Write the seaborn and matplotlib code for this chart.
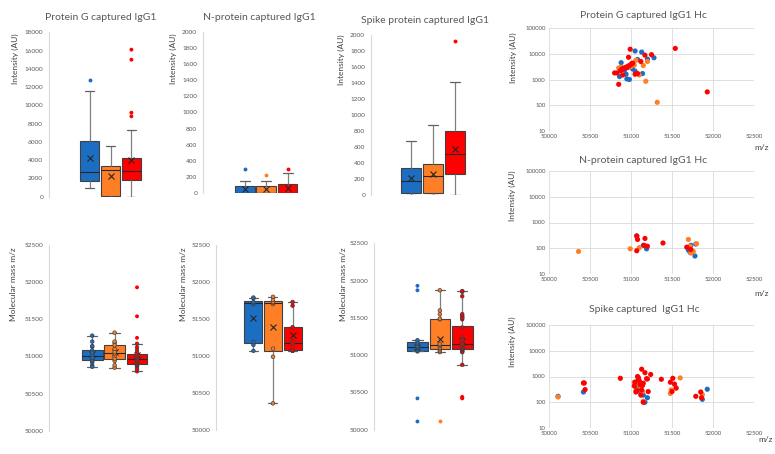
import numpy as np
import pandas as pd
import matplotlib
matplotlib.use("Agg")
import matplotlib.pyplot as plt
import seaborn as sns
from matplotlib.ticker import FixedLocator, FuncFormatter, NullLocator

nan = np.nan

# ---------------- data ----------------
groups = ["Group 1", "Group 2", "Group 3"]
colors = ["#1b6ec2", "#ff7f27", "#ff0000"]

# Protein G captured IgG1 (mass m/z, intensity AU); nan mass = no peak (intensity 0)
pg_blue_mass = [51050, 51130, 51280, 51200, 51080, 50880, 51000, 50960, 51020, 50920, 51050, 51140, 50940, 50860, 50950, 50980]
pg_blue_int = [12800, 11600, 7000, 6200, 6000, 4500, 3200, 2900, 2600, 2300, 2100, 1700, 1600, 1300, 1050, 1000]
pg_orange_mass = [51320, 51180, 51100, 50850, 50880, 50940, 51000, 50970, 51150, 51200, 51040, 51060, nan, nan, nan, nan]
pg_orange_int = [130, 850, 1500, 2800, 3000, 3000, 3200, 3300, 3500, 5000, 3600, 5600, 0, 0, 0, 0]
pg_red_mass = [51540, 50990, 51250, 51170, 50970, 51120, 51930, 50850, 50900, 50800, 50830, 50870, 50880, 50890,
               50900, 50910, 50920, 50930, 50940, 50950, 50960, 50980, 51000, 51010, 51020, 51050, 51080, nan]
pg_red_int = [16100, 15000, 9200, 8800, 7300, 5000, 330, 650, 1500, 1800, 1800, 2200, 2400, 2500,
              2600, 2700, 2800, 2800, 2900, 3000, 3200, 3500, 3800, 4200, 4300, 1600, 1700, 0]

# N-protein captured IgG1
np_blue_mass = [51070, 51150, 51190, 51700, 51720, 51730, 51780, 51790] + [nan] * 12
np_blue_int = [300, 130, 95, 85, 70, 130, 50, 145] + [0] * 12
np_orange_mass = [50360, 50990, 51100, 51700, 51720, 51730, 51760, 51800] + [nan] * 12
np_orange_int = [75, 95, 105, 220, 120, 65, 75, 150] + [0] * 12
np_red_mass = [51070, 51070, 51080, 51160, 51170, 51200, 51390, 51680, 51730] + [nan] * 15
np_red_int = [300, 80, 220, 130, 240, 120, 160, 110, 90] + [0] * 15

# Spike protein captured IgG1
sp_blue_mass = [50110, 50420, 51050, 51060, 51080, 51100, 51110, 51120, 51150, 51170, 51200, 51870, 51930] + [nan] * 5
sp_blue_int = [170, 250, 450, 380, 680, 350, 550, 220, 190, 100, 150, 130, 320] + [0] * 5
sp_orange_mass = [50110, 51040, 51060, 51080, 51100, 51120, 51140, 51150, 51480, 51490, 51550, 51600, 51870] + [nan] * 5
sp_orange_int = [160, 600, 280, 500, 450, 400, 260, 110, 220, 300, 350, 880, 200] + [0] * 5
sp_red_mass = [50420, 50430, 50440, 50870, 51130, 51170, 51240, 51190, 51370, 51480, 51510, 51530, 51550, 51790,
               51850, 51860, 51150, 51120, 51210, 51060, 51040, 51050, 51070, 51080, 51090, 51100, 51110, 51130,
               51140, 51150, 51200, 51500, nan]
sp_red_int = [560, 560, 310, 850, 1920, 1410, 1200, 820, 780, 600, 850, 510, 360, 170,
              250, 150, 100, 190, 260, 250, 430, 600, 280, 1000, 900, 700, 480, 300,
              450, 550, 800, 260, 0]

titles_box = ["Protein G captured IgG1", "N-protein captured IgG1", "Spike protein captured IgG1"]
titles_sc = ["Protein G captured IgG1 Hc", "N-protein captured IgG1 Hc", "Spike captured  IgG1 Hc"]


def frame(bm, bi, om, oi, rm, ri):
    parts = []
    for g, m, i in zip(groups, [bm, om, rm], [bi, oi, ri]):
        parts.append(pd.DataFrame({"group": g, "mass": m, "intensity": i}))
    return pd.concat(parts, ignore_index=True)


pg = frame(pg_blue_mass, pg_blue_int, pg_orange_mass, pg_orange_int, pg_red_mass, pg_red_int)
npdf = frame(np_blue_mass, np_blue_int, np_orange_mass, np_orange_int, np_red_mass, np_red_int)
sp = frame(sp_blue_mass, sp_blue_int, sp_orange_mass, sp_orange_int, sp_red_mass, sp_red_int)

# ---------------- style ----------------
sns.set_theme(style="white")
plt.rcParams['font.family'] = ['Lato', 'DejaVu Sans']

W, H = 775, 454
fig = plt.figure(figsize=(W / 100, H / 100), dpi=100)

TICK_C = "#595959"
LAB_C = "#404040"


def add_ax(l, t, r, b):
    return fig.add_axes([l / W, 1 - b / H, (r - l) / W, (b - t) / H])


def fx(x):
    return x / W


def fy(y):
    return 1 - y / H


def outlier_mask(df, col):
    mask = pd.Series(False, index=df.index)
    for g in groups:
        s = df.loc[df.group == g, col].dropna()
        q1, q3 = np.percentile(s, [25, 75])
        iqr = q3 - q1
        out = (s < q1 - 1.5 * iqr) | (s > q3 + 1.5 * iqr)
        mask.loc[out.index] = out
    return mask


def draw_box(ax, df, col, xlim, ylim, yticks, inner):
    sns.boxplot(data=df, x="group", y=col, hue="group", order=groups, hue_order=groups,
                palette=colors, saturation=1, width=0.92, showfliers=False, showmeans=True,
                linewidth=0.8, linecolor="#404040", legend=False, ax=ax, whis=1.5,
                meanprops=dict(marker="x", markeredgecolor="#262626", markerfacecolor="none",
                               markersize=4.5, markeredgewidth=0.8),
                whiskerprops=dict(color="#808080", linewidth=0.9),
                capprops=dict(color="#606060", linewidth=0.9),
                medianprops=dict(color="#262626", linewidth=0.8))
    d = df.dropna(subset=[col])
    m = outlier_mask(d, col)
    if inner:
        sns.stripplot(data=d[~m], x="group", y=col, hue="group", order=groups, hue_order=groups,
                      palette=colors, jitter=False, size=2.6, linewidth=0.5, edgecolor="#404040",
                      legend=False, ax=ax)
    sns.stripplot(data=d[m], x="group", y=col, hue="group", order=groups, hue_order=groups,
                  palette=colors, jitter=False, size=2.8, linewidth=0, legend=False, ax=ax)
    ax.set_xlim(*xlim)
    ax.set_ylim(*ylim)
    ax.yaxis.set_major_locator(FixedLocator(yticks))
    ax.yaxis.set_major_formatter(FuncFormatter(lambda v, p: f"{int(round(v))}"))
    ax.set_xticks([])
    ax.set_xlabel("")
    for s in ["top", "right", "bottom"]:
        ax.spines[s].set_visible(False)
    ax.spines["left"].set_color("#d9d9d9")
    ax.spines["left"].set_linewidth(0.8)
    ax.tick_params(axis="y", length=0, pad=4.3, labelsize=4.6, labelcolor=TICK_C)


def draw_scatter(ax, df):
    d = df[df.intensity > 0].dropna()
    sns.scatterplot(data=d, x="mass", y="intensity", hue="group", hue_order=groups,
                    palette=colors, s=14, linewidth=0, legend=False, ax=ax, zorder=3)
    ax.set_yscale("log")
    ax.set_xlim(50000, 52500)
    ax.set_ylim(10, 100000)
    ax.xaxis.set_major_locator(FixedLocator(np.arange(50000, 52501, 500)))
    ax.yaxis.set_major_locator(FixedLocator([10, 100, 1000, 10000, 100000]))
    ax.yaxis.set_minor_locator(NullLocator())
    ax.xaxis.set_minor_locator(NullLocator())
    ax.yaxis.set_major_formatter(FuncFormatter(lambda v, p: f"{int(round(v))}"))
    ax.xaxis.set_major_formatter(FuncFormatter(lambda v, p: f"{int(round(v))}"))
    for s in ax.spines.values():
        s.set_visible(False)
    ax.grid(True, color="#d9d9d9", linewidth=0.6)
    ax.set_axisbelow(True)
    ax.tick_params(axis="both", length=0, pad=2.4, labelsize=4.3, labelcolor=TICK_C)


# ---------------- box panels ----------------
int_ticks = list(range(0, 18001, 2000))
small_ticks = list(range(0, 2001, 200))
mass_ticks = list(range(50000, 52501, 500))

top_specs = [
    (pg, (49, 32.3, 165, 196.7), (-1.95, 3.61), (0, 18000), int_ticks, (15, 58.5), (101, 17.3)),
    (npdf, (203, 32.3, 320, 192.7), (-1.97, 3.52), (0, 2000), small_ticks, (173, 58.5), (259, 17.3)),
    (sp, (371, 34.7, 490, 195.3), (-1.86, 3.63), (0, 2000), small_ticks, (341, 60), (425, 20.7)),
]
for (df, box, xl, yl, yt, lab, tpos), title in zip(top_specs, titles_box):
    ax = add_ax(*box)
    draw_box(ax, df, "intensity", xl, yl, yt, inner=False)
    ax.set_ylabel("Intensity (AU)", fontsize=6, color=LAB_C, va="center", ha="center")
    ax.yaxis.set_label_coords(fx(lab[0]), fy(lab[1]), transform=fig.transFigure)
    fig.text(fx(tpos[0]), fy(tpos[1]), title, ha="center", va="center", fontsize=7.5, color=TICK_C)

bot_specs = [
    (pg, (49, 245, 165, 430.7), (-1.93, 3.25), (14, 284)),
    (npdf, (216, 245, 320, 430), (-1.91, 3.40), (184, 284)),
    (sp, (374, 243.3, 490, 429.7), (-1.94, 3.24), (343, 284)),
]
for df, box, xl, lab in bot_specs:
    ax = add_ax(*box)
    draw_box(ax, df, "mass", xl, (50000, 52500), mass_ticks, inner=True)
    ax.set_ylabel("Molecular mass m/z", fontsize=6, color=LAB_C, va="center", ha="center")
    ax.yaxis.set_label_coords(fx(lab[0]), fy(lab[1]), transform=fig.transFigure)

# ---------------- scatter panels ----------------
sc_specs = [
    (pg, (549, 28, 754, 131), (513, 58), (643.5, 15), (762, 147)),
    (npdf, (549, 171, 754, 274), (512, 196), (643, 160), (762, 294)),
    (sp, (549, 325, 754, 428), (512, 342), (644, 309), (766, 440)),
]
for (df, box, lab, tpos, xlab), title in zip(sc_specs, titles_sc):
    ax = add_ax(*box)
    draw_scatter(ax, df)
    ax.set_ylabel("Intensity (AU)", fontsize=6, color=LAB_C, va="center", ha="center")
    ax.yaxis.set_label_coords(fx(lab[0]), fy(lab[1]), transform=fig.transFigure)
    ax.set_xlabel("m/z", fontsize=6, color=LAB_C, va="center", ha="center")
    ax.xaxis.set_label_coords(fx(xlab[0]), fy(xlab[1]), transform=fig.transFigure)
    fig.text(fx(tpos[0]), fy(tpos[1]), title, ha="center", va="center", fontsize=7.5, color=TICK_C)

fig.savefig("out.png", dpi=100, facecolor="white")
